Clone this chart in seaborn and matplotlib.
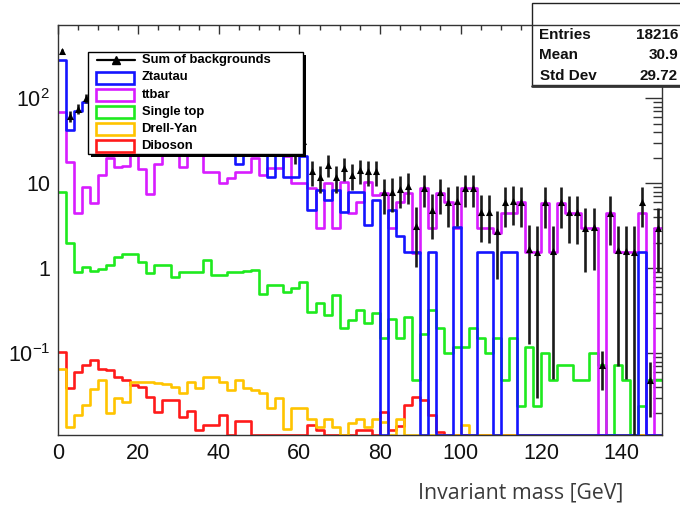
import numpy as np
import matplotlib
matplotlib.use("Agg")
import matplotlib.pyplot as plt
from matplotlib.patches import Rectangle
from matplotlib.lines import Line2D
from matplotlib.ticker import (FixedLocator, FixedFormatter, MultipleLocator,
                               LogLocator, NullFormatter)
import seaborn as sns

# ---- histogram contents (2 GeV bins from 0 to 150 GeV) ----
bin_edges = [float(e) for e in range(0, 152, 2)]

ztautau = [280, 42, 70, 90, 95, 100, 100, 95, 92, 88,
           82, 78, 72, 66, 60, 55, 50, 46, 42, 38,
           34, 30, 17, 26, 24, 22, 12, 22, 12, 12,
           21, 4.8, 8.3, 6.3, 8.3, 4.6, 7.8, 7.8, 3.2, 6.3,
           0, 4.8, 2.4, 1.55, 1.55, 0, 1.55, 0, 0, 3.1,
           0, 0, 1.55, 1.55, 0, 1.55, 1.55, 0, 0, 0,
           0, 0, 0, 0, 0, 0, 0, 0, 0, 0,
           0, 0, 1.55, 0, 0]

ttbar = [69, 17.8, 4.5, 9.0, 5.9, 12.4, 20, 15.5, 16, 25,
         14.9, 7.4, 16.7, 24, 22, 15.5, 23, 25, 13.5, 13.5,
         10, 11.4, 13.5, 13.5, 20, 12.4, 15, 15, 21, 10,
         10, 8.7, 2.95, 10, 2.95, 10.4, 4.5, 6.0, 10.3, 7.2,
         7.6, 2.95, 6.0, 7.6, 1.5, 8.7, 2.95, 7.6, 6.0, 2.95,
         8.7, 8.7, 2.95, 2.95, 2.6, 4.5, 4.5, 6.0, 1.55, 1.55,
         5.9, 1.55, 5.9, 4.5, 4.5, 2.95, 2.95, 0, 4.5, 1.55,
         1.55, 1.55, 4.5, 0, 2.95]

single_top = [7.8, 2.0, 0.9, 1.04, 0.93, 0.99, 1.08, 1.36, 1.49, 1.49,
              1.19, 0.87, 1.08, 1.08, 0.79, 0.9, 0.9, 0.9, 1.24, 0.83,
              0.83, 0.9, 0.9, 0.93, 0.95, 0.5, 0.63, 0.63, 0.53, 0.58,
              0.69, 0.31, 0.39, 0.28, 0.48, 0.2, 0.245, 0.32, 0.225, 0.30,
              0.15, 0.25, 0.15, 0.27, 0.048, 0.17, 0.32, 0.2, 0.1, 0.12,
              0.12, 0.2, 0.15, 0.1, 0.15, 0.048, 0.15, 0.024, 0.118, 0.024,
              0.1, 0.048, 0.072, 0.072, 0.048, 0.048, 0.1, 0.072, 0, 0.072,
              0.048, 0, 0.024, 0.048, 0.048]

drell_yan = [0.066, 0.0137, 0.0186, 0.0245, 0.038, 0.048, 0.0196, 0.03, 0.027, 0.046,
             0.046, 0.046, 0.045, 0.043, 0.04, 0.034, 0.046, 0.039, 0.053, 0.053,
             0.046, 0.037, 0.048, 0.039, 0.037, 0.034, 0.023, 0.03, 0.013, 0.0226,
             0.0226, 0.017, 0.0137, 0.0168, 0.0137, 0, 0.015, 0.017, 0.0137, 0.017,
             0.0156, 0, 0.017, 0, 0, 0, 0, 0, 0, 0,
             0.0142, 0, 0, 0, 0, 0, 0, 0, 0, 0,
             0, 0, 0, 0, 0, 0, 0, 0, 0, 0,
             0, 0, 0, 0, 0]

diboson = [0.105, 0.039, 0.06, 0.072, 0.083, 0.066, 0.063, 0.053, 0.048, 0.042,
           0.04, 0.031, 0.0205, 0.028, 0.028, 0.018, 0.021, 0.0125, 0.0142, 0.0142,
           0.019, 0, 0.0158, 0.0158, 0, 0, 0, 0, 0, 0,
           0, 0.0142, 0.0125, 0, 0, 0, 0, 0.0125, 0.0125, 0,
           0.0205, 0.0125, 0.014, 0.0245, 0.031, 0.028, 0.019, 0.0118, 0, 0,
           0, 0, 0, 0, 0, 0, 0, 0, 0, 0,
           0, 0, 0, 0, 0, 0, 0, 0, 0, 0,
           0, 0, 0, 0, 0]

sum_bkg = [357, 62, 75.4, 100, 102, 113.5, 121, 112, 109.5, 114.5,
           98, 86.3, 89.8, 91, 82.8, 71.4, 74, 72, 56.8, 52.4,
           45, 42.3, 31.5, 40.5, 45, 34.9, 27.7, 37.7, 33.6, 22.6,
           31.7, 13.8, 11.7, 16.6, 11.7, 15.2, 12.6, 14.2, 13.8, 13.8,
           7.8, 8.0, 8.6, 9.4, 3.13, 8.9, 4.84, 7.8, 6.1, 6.17,
           8.83, 8.9, 4.65, 4.6, 2.75, 6.1, 6.2, 6.02, 1.67, 1.57,
           6.0, 1.6, 5.97, 4.57, 4.55, 3.0, 3.05, 0.072, 4.5, 1.62,
           1.6, 1.55, 6.07, 0.048, 3.0]

sum_err = [23, 9.5, 10.6, 12.2, 12.3, 13.0, 13.4, 12.9, 12.7, 13.0,
           12.1, 11.3, 11.5, 11.6, 11.1, 10.3, 10.5, 10.3, 9.1, 8.8,
           8.1, 7.9, 6.8, 7.7, 8.1, 7.2, 6.4, 7.4, 7.0, 5.7,
           6.8, 4.5, 4.1, 4.9, 4.1, 4.7, 4.3, 4.5, 4.5, 4.5,
           3.4, 3.4, 3.5, 3.7, 2.1, 3.6, 2.6, 3.4, 3.0, 3.0,
           3.6, 3.6, 2.6, 2.6, 2.0, 3.0, 3.0, 3.0, 1.54, 1.54,
           3.0, 1.55, 3.0, 2.6, 2.6, 2.1, 2.1, 0.035, 2.6, 1.55,
           1.55, 1.6, 3.0, 0.03, 2.1]

legend_labels = ["Sum of backgrounds", "Ztautau", "ttbar", "Single top",
                 "Drell-Yan", "Diboson"]
stats_labels = ["Entries", "Mean", "Std Dev"]
stats_values = ["18216", "30.9", "29.72"]
x_ticks = [0, 20, 40, 60, 80, 100, 120, 140]
y_ticks = [0.1, 1, 10, 100]
y_tick_labels = [r"$10^{-1}$", "1", "10", r"$10^{2}$"]
x_title = "Invariant mass [GeV]"

# ---- style ----
sns.set_theme(style="white")
plt.rcParams["font.family"] = ["Liberation Sans", "DejaVu Sans"]
plt.rcParams["mathtext.fontset"] = "custom"
plt.rcParams["mathtext.rm"] = "Liberation Sans"
plt.rcParams["mathtext.it"] = "Liberation Sans:italic"
plt.rcParams["mathtext.bf"] = "Liberation Sans:bold"
plt.rcParams["mathtext.default"] = "regular"

C_Z = "#1414ff"
C_TT = "#d81cff"
C_ST = "#1eea1e"
C_DY = "#ffc400"
C_DB = "#ff1a1a"

W, H = 680, 512
YMIN, YMAX = 10 ** -1.961, 10 ** 2.862

fig = plt.figure(figsize=(W / 100, H / 100), dpi=100)
ax = fig.add_axes([57.7 / W, 1 - 435 / H, (662 - 57.7) / W, (435 - 25) / H])
ax.set_yscale("log")

edges_arr = np.asarray(bin_edges)
centers = 0.5 * (edges_arr[:-1] + edges_arr[1:])


def shown(vals):
    # empty bins are drawn along the lower edge of the log axis
    v = np.asarray(vals, float)
    return np.where(v > 0, v, YMIN)


series = [(diboson, C_DB, 2.0), (drell_yan, C_DY, 2.1), (single_top, C_ST, 2.2),
          (ttbar, C_TT, 2.3), (ztautau, C_Z, 2.4)]
for vals, col, z in series:
    sns.histplot(x=centers, weights=shown(vals), bins=bin_edges, element="step",
                 fill=False, color=col, linewidth=1.9, ax=ax, zorder=z)

# summed background: vertical error bars with triangle markers
ax.errorbar(centers, sum_bkg, yerr=sum_err, fmt="none",
            ecolor="#1a1a1a", elinewidth=1.9, capsize=0, zorder=2.6)
sns.scatterplot(x=centers, y=sum_bkg, marker="^", color="black", s=26,
                linewidth=0, ax=ax, zorder=2.7)

ax.set_xlim(0, 150)
ax.set_ylim(YMIN, YMAX)
ax.set_xlabel("")
ax.set_ylabel("")

ax.xaxis.set_major_locator(FixedLocator(x_ticks))
ax.xaxis.set_minor_locator(MultipleLocator(5))
ax.yaxis.set_major_locator(FixedLocator(y_ticks))
ax.yaxis.set_major_formatter(FixedFormatter(y_tick_labels))
ax.yaxis.set_minor_locator(LogLocator(base=10, subs=np.arange(2, 10)))
ax.yaxis.set_minor_formatter(NullFormatter())

ax.tick_params(axis="both", which="both", direction="in", top=True, right=True,
               color="#333333", width=1.0, labelcolor="#111111")
ax.tick_params(axis="x", which="major", length=6.5, labelsize=15.5, pad=5.5)
ax.tick_params(axis="x", which="minor", length=3.6)
ax.tick_params(axis="y", which="major", length=12.2, labelsize=15.5, pad=5.5)
ax.tick_params(axis="y", which="minor", length=6.3)
for sp in ax.spines.values():
    sp.set_color("#333333")
    sp.set_linewidth(1.0)


def fx(x):
    return x / W


def fy(y):
    return 1 - y / H


def box(x0, y0, x1, y1, **kw):
    r = Rectangle((fx(x0), fy(y1)), fx(x1) - fx(x0), fy(y0) - fy(y1),
                  transform=fig.transFigure, **kw)
    fig.add_artist(r)
    return r


# ---- legend ----
box(91, 55, 306, 157, facecolor="black", edgecolor="none", zorder=5)
box(88, 52, 303, 154, facecolor="white", edgecolor="black", linewidth=1.0, zorder=6)
rows = [60, 77.5, 95, 112, 129, 146]
fig.add_artist(Line2D([fx(97), fx(135)], [fy(rows[0]), fy(rows[0])],
                      transform=fig.transFigure, color="black", lw=1.6, zorder=7))
fig.add_artist(Line2D([fx(116)], [fy(rows[0])], transform=fig.transFigure,
                      marker="^", markersize=6, color="black", lw=0, zorder=7))
for yy, col in zip(rows[1:], [C_Z, C_TT, C_ST, C_DY, C_DB]):
    box(96, yy - 6, 134, yy + 6, facecolor="white", edgecolor=col,
        linewidth=1.9, zorder=7)
for yy, lab in zip(rows, legend_labels):
    fig.text(fx(141.5), fy(yy), lab, ha="left", va="center", fontsize=9.4,
             fontweight="bold", color="black", zorder=8)

# ---- statistics box ----
box(532, 3, 700, 85, facecolor="white", edgecolor="#222222", linewidth=1.0, zorder=5)
fig.add_artist(Line2D([fx(532), fx(680)], [fy(25), fy(25)], transform=fig.transFigure,
                      color="#333333", lw=1.0, zorder=6))
fig.add_artist(Line2D([fx(532), fx(680)], [fy(85.5), fy(85.5)], transform=fig.transFigure,
                      color="#333333", lw=2.0, zorder=6))
for yy, lab, val in zip([34.7, 54.7, 75.7], stats_labels, stats_values):
    fig.text(fx(539.5), fy(yy), lab, ha="left", va="center", fontsize=11,
             fontweight="bold", color="#111111", zorder=7)
    fig.text(fx(678), fy(yy), val, ha="right", va="center", fontsize=11,
             fontweight="bold", color="#111111", zorder=7)

# ---- axis title ----
fig.text(fx(521), fy(493), x_title, ha="center", va="center", fontsize=15.3,
         family=["Open Sans", "DejaVu Sans"], color="#3a3a3a")

fig.savefig("out.png", dpi=100)
